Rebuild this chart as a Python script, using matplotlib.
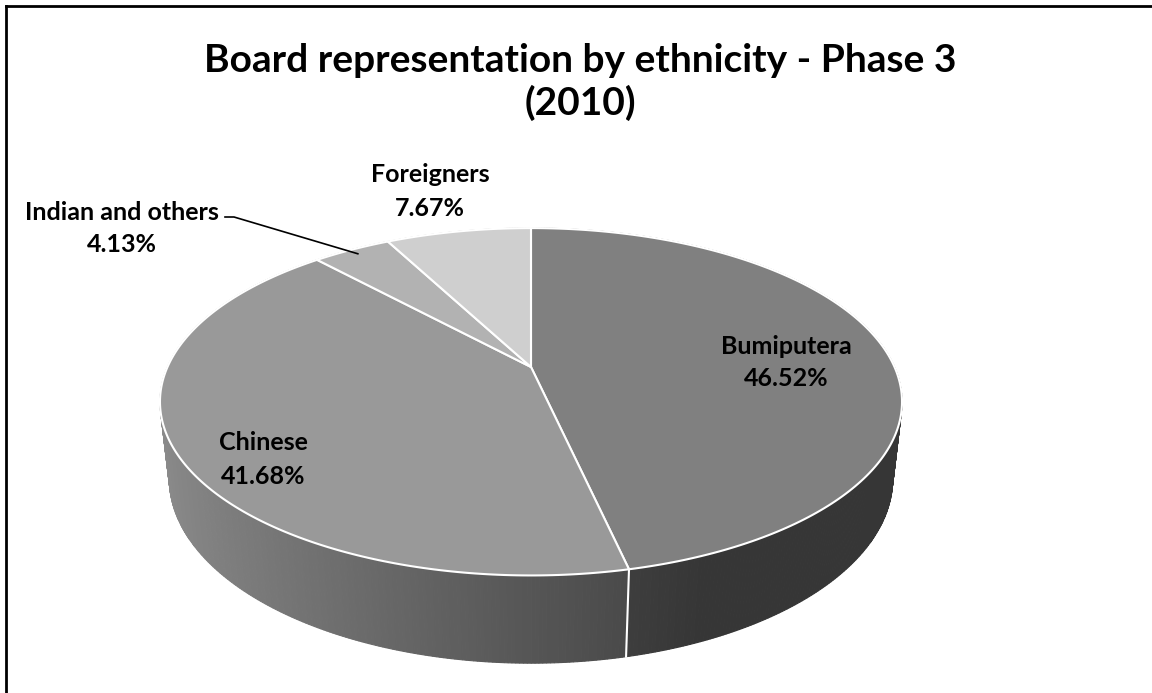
import numpy as np
import matplotlib
matplotlib.use("Agg")
import matplotlib.pyplot as plt
from matplotlib.patches import Polygon

# data
categories = ["Bumiputera", "Chinese", "Indian and others", "Foreigners"]
shares = [46.52, 41.68, 4.13, 7.67]
pct_labels = ["46.52%", "41.68%", "4.13%", "7.67%"]
top_colors = ["#808080", "#999999", "#b2b2b2", "#cfcfcf"]
title = "Board representation by ethnicity - Phase 3\n(2010)"

# label layout: centre of first line (pixels)
label_pos = [(786, 346), (263, 443), (122, 212), (430, 175)]

plt.rcParams["font.family"] = ["Lato", "DejaVu Sans"]

W, H = 1152, 693
fig = plt.figure(figsize=(W / 100, H / 100), dpi=100)
ax = fig.add_axes([0, 0, 1, 1])
ax.set_xlim(0, W)
ax.set_ylim(H, 0)
ax.axis("off")

# simple perspective camera for the 3D pie
cx, cy = 531, 367
f, D = 1614, 4.44
alpha = np.radians(27.3)
h = 0.24


def project(theta, r=1.0, y=0.0):
    X = r * np.sin(theta)
    Z = r * np.cos(theta)
    yc = Z * np.sin(alpha) + y * np.cos(alpha)
    d = D + Z * np.cos(alpha) - y * np.sin(alpha)
    return cx + f * X / d, cy - f * yc / d


def shade(col, s):
    c = np.array(matplotlib.colors.to_rgb(col))
    return tuple(np.clip(c * s, 0, 1))


fr = np.array(shares) / sum(shares)
bounds = np.concatenate([[0], np.cumsum(fr)]) * 2 * np.pi

# side walls, drawn as thin strips from back to front
strips = []
for i in range(len(shares)):
    t0, t1 = bounds[i], bounds[i + 1]
    n = max(2, int(np.degrees(t1 - t0) / 0.5))
    ts = np.linspace(t0, t1, n + 1)
    for a, b in zip(ts[:-1], ts[1:]):
        m = (a + b) / 2
        s = np.clip(0.56 + 0.36 * (-np.sin(m)), 0.42, 1.0)
        pts = [project(a), project(b), project(b, y=-h), project(a, y=-h)]
        strips.append((np.cos(m), pts, shade(top_colors[i], s)))
strips.sort(key=lambda z: -z[0])
for _, pts, col in strips:
    ax.add_patch(Polygon(pts, closed=True, facecolor=col, edgecolor=col, lw=0.8))

# white seams on the visible side at slice boundaries
for t in bounds[:-1]:
    if np.cos(t) < -0.2:
        x0, y0 = project(t)
        x1, y1 = project(t, y=-h)
        ax.plot([x0, x1], [y0, y1], color="white", lw=1.5)

# top faces
centre = project(0.0, r=0.0)
for i in range(len(shares)):
    ts = np.linspace(bounds[i], bounds[i + 1], 200)
    xs, ys = project(ts)
    pts = [centre] + list(zip(xs, ys))
    ax.add_patch(Polygon(pts, closed=True, facecolor=top_colors[i],
                         edgecolor="white", lw=1.5, joinstyle="round"))

# data labels
for i, (lx, ly) in enumerate(label_pos):
    ax.text(lx, ly, categories[i], ha="center", va="center",
            fontsize=18, fontweight="bold", color="black")
    ax.text(lx, ly + 33, pct_labels[i], ha="center", va="center",
            fontsize=18, fontweight="bold", color="black")

# leader line for the small slice
mid = (bounds[2] + bounds[3]) / 2
rx, ry = project(mid, r=0.96)
ax.plot([225, 234, rx], [217, 217, ry], color="black", lw=1.2)

ax.text(580, 82, title, ha="center", va="center", fontsize=28,
        fontweight="bold", linespacing=1.2)

# chart area border (right and bottom edges fall outside the image)
ax.plot([6, 6], [H + 5, 6], color="black", lw=2, clip_on=False)
ax.plot([6, W + 5], [6, 6], color="black", lw=2, clip_on=False)

fig.savefig("out.png", dpi=100)
